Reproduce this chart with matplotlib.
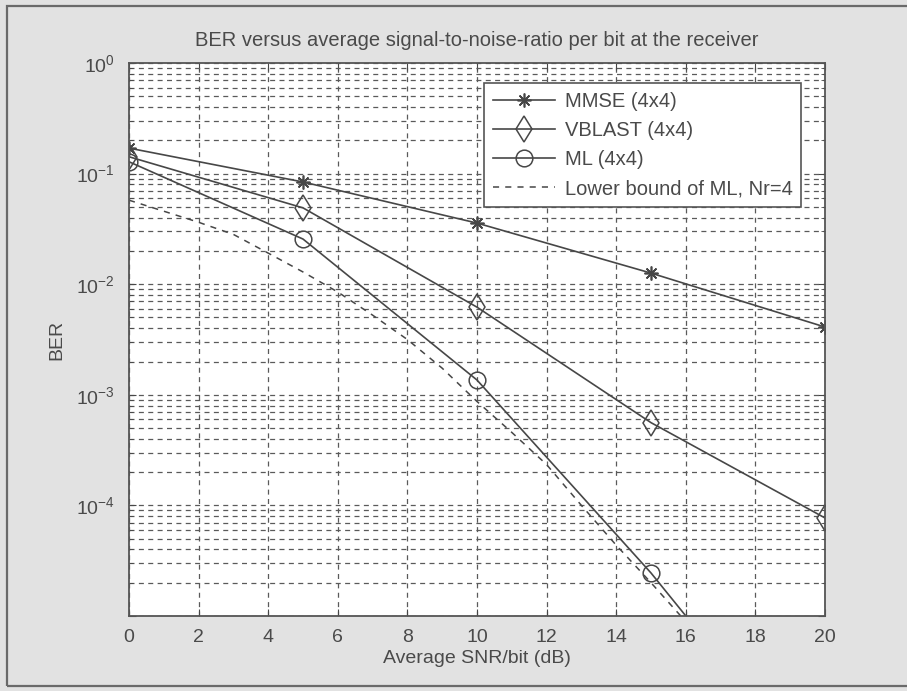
import matplotlib
matplotlib.use('Agg')
import matplotlib.pyplot as plt
from matplotlib.patches import Rectangle
from matplotlib.ticker import FixedLocator, LogLocator, NullFormatter, FuncFormatter
import math

# ---- data ----
snr_db = [0, 5, 10, 15, 20]
ber_mmse = [0.170, 0.084, 0.0357, 0.0126, 0.0041]
ber_vblast = [0.142, 0.049, 0.0062, 0.00056, 0.000077]
ber_ml = [0.128, 0.0256, 0.00136, 0.0000245, 0.00000028]

bound_snr_db = [0, 1, 2, 3, 4, 5, 6, 7, 8, 9, 10, 11, 12, 13, 14, 15, 16]
bound_ber = [0.0575, 0.0457, 0.0363, 0.0282, 0.0191, 0.0129, 0.0085, 0.00525,
             0.00316, 0.00174, 0.00087, 0.000457, 0.000234, 0.0001,
             0.0000437, 0.00002, 0.0000089]

labels = ['MMSE (4x4)', 'VBLAST (4x4)', 'ML (4x4)', 'Lower bound of ML, Nr=4']
title = 'BER versus average signal-to-noise-ratio per bit at the receiver'
xlabel = 'Average SNR/bit (dB)'
ylabel = 'BER'
xticks = [0, 2, 4, 6, 8, 10, 12, 14, 16, 18, 20]

# ---- style ----
plt.rcParams['font.family'] = ['Liberation Sans', 'DejaVu Sans']
plt.rcParams['mathtext.default'] = 'regular'
ink = '#474747'
gridc = '#5a5a5a'
textc = '#4a4a4a'
fs = 14

fig = plt.figure(figsize=(9.07, 6.91), dpi=100, facecolor='#e2e2e2')
ax = fig.add_axes([129/907, 1-616/691, (825-129)/907, (616-63)/691])
ax.set_facecolor('white')

# outer scanned frame
fig.add_artist(Rectangle((7/907, 5/691), 1.2, 680/691, transform=fig.transFigure,
                         fill=False, edgecolor='#6a6a6a', linewidth=1.6))

lw = 1.2
ax.plot(snr_db, ber_mmse, color=ink, lw=lw, marker=(8, 2, 0), ms=10, mec=ink,
        mew=1.2, label=labels[0])
ax.plot(snr_db, ber_vblast, color=ink, lw=lw, marker='d', ms=13, mfc='none', mec=ink,
        mew=1.1, label=labels[1])
ax.plot(snr_db, ber_ml, color=ink, lw=lw, marker='o', ms=12, mfc='none', mec=ink,
        mew=1.1, label=labels[2])
ax.plot(bound_snr_db, bound_ber, color=ink, lw=1.1, ls=(0, (4, 4)), label=labels[3])

ax.set_yscale('log')
ax.set_xlim(0, 20)
ax.set_ylim(1e-5, 1)
ax.xaxis.set_major_locator(FixedLocator(xticks))
ax.yaxis.set_major_locator(FixedLocator([1e-5, 1e-4, 1e-3, 1e-2, 1e-1, 1e0]))
ax.yaxis.set_minor_locator(LogLocator(base=10, subs=[2, 3, 4, 5, 6, 7, 8, 9], numticks=20))
ax.yaxis.set_minor_formatter(NullFormatter())

def yfmt(v, pos):
    e = int(round(math.log10(v)))
    if e == -5:
        return ''
    return r'$10^{%d}$' % e
ax.yaxis.set_major_formatter(FuncFormatter(yfmt))

ax.grid(True, which='major', axis='both', color=gridc, ls=(0, (4, 3.5)), lw=0.9)
ax.grid(True, which='minor', axis='y', color=gridc, ls=(0, (4, 3.5)), lw=0.9)
ax.tick_params(which='both', direction='in', top=True, right=True, color=ink,
               labelsize=fs, labelcolor=textc)
ax.tick_params(which='major', length=5)
ax.tick_params(which='minor', length=3)
ax.tick_params(axis='x', pad=9)
ax.tick_params(axis='y', pad=10)
for s in ax.spines.values():
    s.set_color('#555555')
    s.set_linewidth(1.3)

ax.set_title(title, fontsize=14.5, color=textc, pad=12)
ax.set_xlabel(xlabel, fontsize=fs, color=textc, labelpad=3)
ax.set_ylabel(ylabel, fontsize=fs, color=textc, labelpad=8)

leg = ax.legend(loc='upper left', bbox_to_anchor=(0.51, 0.964), fontsize=14.5,
                handlelength=3.1, numpoints=1, fancybox=False, framealpha=1,
                edgecolor='#555555', borderpad=0.45, labelspacing=0.5,
                handletextpad=0.45, borderaxespad=0)
for t in leg.get_texts():
    t.set_color(textc)
leg.get_frame().set_linewidth(1.2)

fig.savefig('out.png', dpi=100, facecolor=fig.get_facecolor())
